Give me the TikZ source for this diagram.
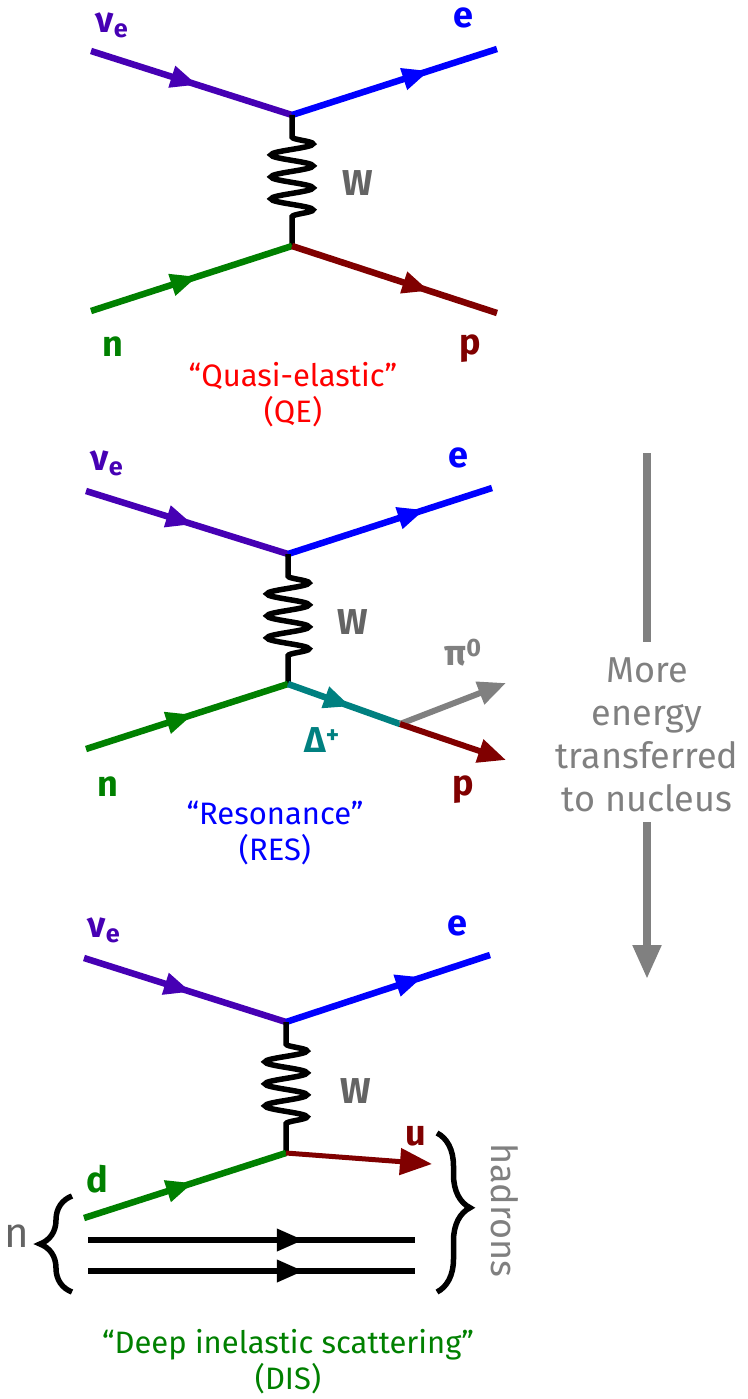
\documentclass[tikz,border=0pt]{standalone}
\usepackage{fontspec}
\setmainfont{Fira Sans}
\usetikzlibrary{arrows.meta,positioning,decorations.pathmorphing,decorations.pathreplacing,decorations.markings}
\definecolor{nucol}{RGB}{70,0,180}
\definecolor{ecol}{RGB}{0,0,255}
\definecolor{ncol}{RGB}{0,128,0}
\definecolor{pcol}{RGB}{128,0,0}
\definecolor{dcol}{RGB}{0,128,128}
\definecolor{picol}{RGB}{128,128,128}
\definecolor{wcol}{RGB}{100,100,100}
\tikzset{
    fermline/.style={line width=6.5pt,postaction={decorate},
        decoration={markings,mark=at position #1 with {\arrow{Triangle[length=27pt,width=21pt]}}}},
    wline/.style={line width=5.5pt,decorate,
        decoration={snake,amplitude=21pt,segment length=22pt,pre length=22pt,post length=21pt}},
    outline/.style={line width=6pt,-{Triangle[length=28pt,width=23pt]}},
    partlabel/.style={font=\fontsize{36}{40}\selectfont\bfseries,inner sep=0pt},
    titletext/.style={font=\fontsize{31}{36}\selectfont,align=center,inner sep=0pt},
    bracket/.style={line width=5.5pt,decorate,decoration={brace,amplitude=32pt}},
    energyline/.style={line width=8pt,picol}
}
\begin{document}
\begin{tikzpicture}[x=1pt,y=-1pt]
    \useasboundingbox (0,0) rectangle (747,1399);
    % quasi-elastic
    \coordinate (qe-nu) at (91,51);
    \coordinate (qe-top) at (292,115);
    \coordinate (qe-e) at (497,49);
    \coordinate (qe-bot) at (292,246);
    \coordinate (qe-n) at (91,311);
    \coordinate (qe-p) at (497,313);
    \draw[fermline=0.53,nucol] (qe-nu) -- (qe-top);
    \draw[fermline=0.67,ecol] (qe-top) -- (qe-e);
    \draw[wline] (qe-top) -- (qe-bot);
    \draw[fermline=0.53,ncol] (qe-n) -- (qe-bot);
    \draw[fermline=0.67,pcol] (qe-bot) -- (qe-p);
    \node[partlabel,nucol] (qe-nulbl) at (112,25) {ν\textsubscript{e}};
    \node[partlabel,ecol] (qe-elbl) at (463,18) {e};
    \node[partlabel,wcol] (qe-wlbl) at (358,183) {W};
    \node[partlabel,ncol] (qe-nlbl) at (113,347) {n};
    \node[partlabel,pcol] (qe-plbl) at (470,349) {p};
    \node[titletext,red] (qe-title) at (293,395) {“Quasi-elastic”\\(QE)};
    % resonance
    \coordinate (res-nu) at (86,491);
    \coordinate (res-top) at (288,554);
    \coordinate (res-e) at (492,488);
    \coordinate (res-bot) at (288,684);
    \coordinate (res-n) at (86,749);
    \coordinate (res-dec) at (400,724);
    \coordinate (res-pi) at (506,683);
    \coordinate (res-p) at (506,760);
    \draw[fermline=0.53,nucol] (res-nu) -- (res-top);
    \draw[fermline=0.67,ecol] (res-top) -- (res-e);
    \draw[wline] (res-top) -- (res-bot);
    \draw[fermline=0.53,ncol] (res-n) -- (res-bot);
    \draw[fermline=0.56,dcol] (res-bot) -- (res-dec);
    \draw[outline,picol] (res-dec) -- (res-pi);
    \draw[outline,pcol] (res-dec) -- (res-p);
    \node[partlabel,nucol] (res-nulbl) at (107,463) {ν\textsubscript{e}};
    \node[partlabel,ecol] (res-elbl) at (458,458) {e};
    \node[partlabel,wcol] (res-wlbl) at (353,622) {W};
    \node[partlabel,picol] (res-pilbl) at (463,653) {π\textsuperscript{0}};
    \node[partlabel,dcol] (res-dlbl) at (322,740) {Δ\textsuperscript{+}};
    \node[partlabel,ncol] (res-nlbl) at (108,787) {n};
    \node[partlabel,pcol] (res-plbl) at (463,790) {p};
    \node[titletext,ecol] (res-title) at (275,833) {“Resonance”\\(RES)};
    % deep inelastic
    \coordinate (dis-nu) at (84,958);
    \coordinate (dis-top) at (286,1022);
    \coordinate (dis-e) at (490,955);
    \coordinate (dis-bot) at (286,1153);
    \coordinate (dis-d) at (84,1218);
    \coordinate (dis-u) at (432,1164);
    \coordinate (dis-qa) at (88,1240);
    \coordinate (dis-qb) at (415,1240);
    \coordinate (dis-qc) at (88,1271);
    \coordinate (dis-qd) at (415,1271);
    \draw[fermline=0.53,nucol] (dis-nu) -- (dis-top);
    \draw[fermline=0.67,ecol] (dis-top) -- (dis-e);
    \draw[wline] (dis-top) -- (dis-bot);
    \draw[fermline=0.54,ncol] (dis-d) -- (dis-bot);
    \draw[line width=5pt,pcol,-{Triangle[length=32pt,width=26pt]}] (dis-bot) -- (dis-u);
    \draw[fermline=0.66] (dis-qa) -- (dis-qb);
    \draw[fermline=0.66] (dis-qc) -- (dis-qd);
    \coordinate (dis-lb1) at (72,1292);
    \coordinate (dis-lb2) at (72,1196);
    \coordinate (dis-rb1) at (437,1133);
    \coordinate (dis-rb2) at (437,1292);
    \draw[bracket] (dis-lb1) -- (dis-lb2);
    \draw[bracket,decoration={aspect=0.47,amplitude=33pt}] (dis-rb1) -- (dis-rb2);
    \node[partlabel,nucol] (dis-nulbl) at (104,930) {ν\textsubscript{e}};
    \node[partlabel,ecol] (dis-elbl) at (457,926) {e};
    \node[partlabel,wcol] (dis-wlbl) at (356,1091) {W};
    \node[partlabel,pcol] (dis-ulbl) at (416,1136) {u};
    \node[partlabel,ncol] (dis-dlbl) at (97,1179) {d};
    \node[font=\fontsize{42}{44}\selectfont,wcol,inner sep=0pt] (dis-nlbl) at (17,1236) {n};
    \node[font=\fontsize{36}{40}\selectfont,picol,rotate=-90,inner sep=0pt] (dis-hlbl) at (505,1210) {hadrons};
    \node[titletext,ncol] (dis-title) at (288,1362) {“Deep inelastic scattering”\\(DIS)};
    % energy arrow
    \coordinate (en-a) at (647,453);
    \coordinate (en-b) at (647,642);
    \coordinate (en-c) at (647,822);
    \coordinate (en-d) at (647,979);
    \node[font=\fontsize{36}{43}\selectfont,picol,align=center,inner sep=0pt] (en-text) at (647,735) {More\\energy\\transferred\\to nucleus};
    \draw[energyline] (en-a) -- (en-b);
    \draw[energyline,-{Triangle[length=34pt,width=27pt]}] (en-c) -- (en-d);
\end{tikzpicture}
\end{document}
